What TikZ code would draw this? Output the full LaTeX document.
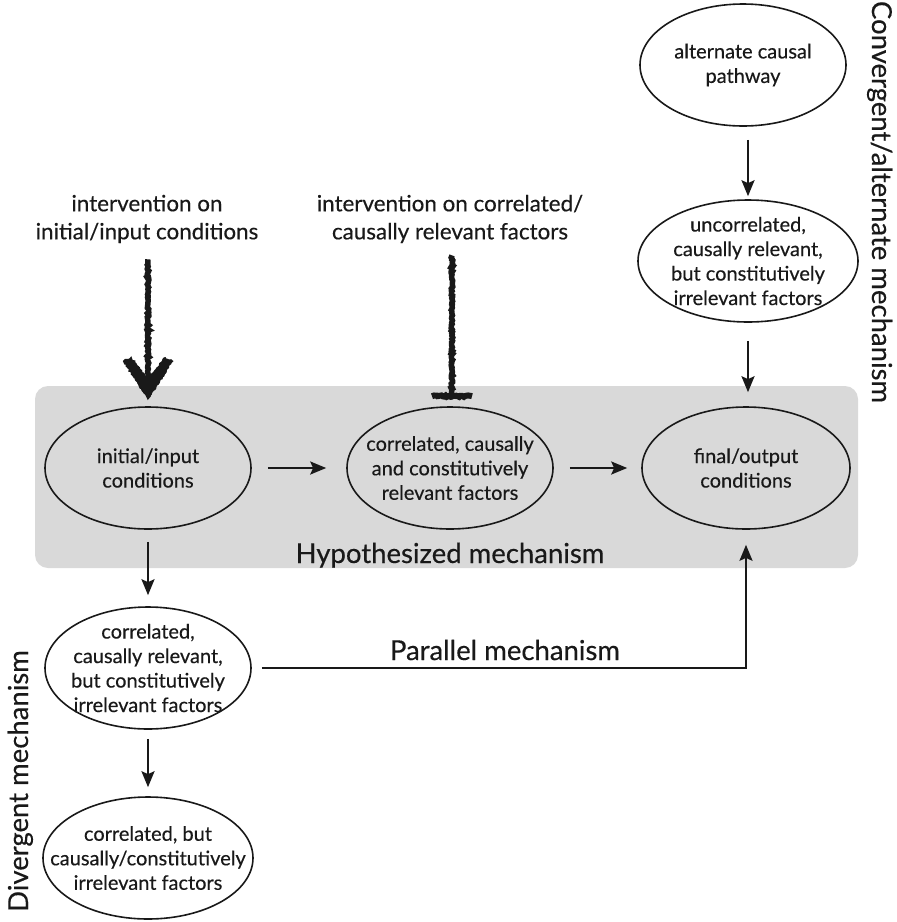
\documentclass[tikz,border=0pt]{standalone}
\usepackage{fontspec}
\setmainfont{Lato}[FakeBold=0.35]
\usetikzlibrary{shapes.geometric,arrows.meta,decorations.pathmorphing,calc}
\definecolor{boxgray}{RGB}{217,217,217}
\definecolor{ink}{RGB}{25,25,25}
\begin{document}
\begin{tikzpicture}[x=1pt,y=-1pt, every node/.style={text=ink},
  elli/.style={ellipse, draw=ink, line width=1.6pt, inner xsep=-40pt, inner ysep=-20pt, minimum width=206pt, minimum height=122pt,
    align=center, font=\fontsize{20}{24.5}\selectfont},
  lbl/.style={align=center, font=\fontsize{22.4}{28}\selectfont, inner sep=0pt},
  big/.style={font=\fontsize{27.5}{30}\selectfont, inner sep=0pt},
  conn/.style={draw=ink, line width=2.5pt, -{Stealth[length=16pt,width=13pt,inset=3pt]}},
  hatch/.style={draw=ink, line width=5.5pt, decorate, decoration={random steps, segment length=1.5pt, amplitude=0.8pt}},
  hatchfill/.style={fill=ink, draw=ink, line width=2pt, decorate, decoration={random steps, segment length=1.5pt, amplitude=0.8pt}}]
\useasboundingbox (0,0) rectangle (897,922);

% hypothesized mechanism box
\node[fill=boxgray, rounded corners=13pt, minimum width=823pt, minimum height=182pt, inner sep=0pt] (hypbox) at (446.5,477) {};

% nodes
\node[elli, fill=white] (alt) at (743,65) {alternate causal\\pathway};
\node[elli, fill=white, minimum width=220pt] (unc) at (748,261) {uncorrelated,\\causally relevant,\\but constitutively\\irrelevant factors};
\node[elli, fill=boxgray] (init) at (148,468) {initial/input\\conditions};
\node[elli, fill=boxgray] (mid) at (450,468) {correlated, causally\\and constitutively\\relevant factors};
\node[elli, fill=boxgray, minimum width=208pt] (final) at (746,468) {final/output\\conditions};
\node[elli, fill=white] (corr) at (148,668) {correlated,\\causally relevant,\\but constitutively\\irrelevant factors};
\node[elli, fill=white, minimum width=210pt] (corrb) at (148,858) {correlated, but\\causally/constitutively\\irrelevant factors};

% labels
\node[lbl] (lab1) at (147,219) {intervention on\\initial/input conditions};
\node[lbl] (lab2) at (450,219) {intervention on correlated/\\causally relevant factors};
\node[big, anchor=base] (hyp) at (450,563) {Hypothesized mechanism};
\node[big, anchor=base] (par) at (505,660) {Parallel mechanism};
\node[big, anchor=base, rotate=90] (div) at (28,781) {Divergent mechanism};
\node[big, anchor=base, rotate=-90] (conv) at (872,202) {Convergent/alternate mechanism};

% connectors
\draw[conn, shorten <=16pt, shorten >=20pt] (init.east) -- (mid.west);
\draw[conn, shorten <=16pt, shorten >=14pt] (mid.east) -- (final.west);
\draw[conn, shorten <=13pt, shorten >=3pt] (unc.north |- alt.south) -- (unc.north);
\draw[conn, shorten <=18pt, shorten >=14pt] (unc.south) -- (unc.south |- final.north);
\draw[conn, shorten <=12pt, shorten >=11pt] (init.south) -- (corr.north);
\draw[conn, shorten <=9pt, shorten >=9pt] (corr.south) -- (corrb.north);
\draw[conn, shorten <=10pt, shorten >=15pt] (corr.east) -| (final.south);

% intervention arrows (hatched)
\coordinate (h1) at ($(lab1.south)+(1,16)$);
\draw[hatch] (h1) -- ($(init.north)+(0,-26)$);
\filldraw[hatchfill] ($(init.north)+(0,-8)$) -- ++(-24,-37) -- ++(7,-3) -- ++(17,22) -- ++(17,-22) -- ++(7,3) -- cycle;
\coordinate (h2) at ($(lab2.south)+(2,12)$);
\draw[hatch] (h2) -- ($(mid.north)+(2,-11)$);
\draw[hatch, line width=6pt] ($(mid.north)+(-18,-10)$) -- ($(mid.north)+(22,-10)$);
\end{tikzpicture}
\end{document}
